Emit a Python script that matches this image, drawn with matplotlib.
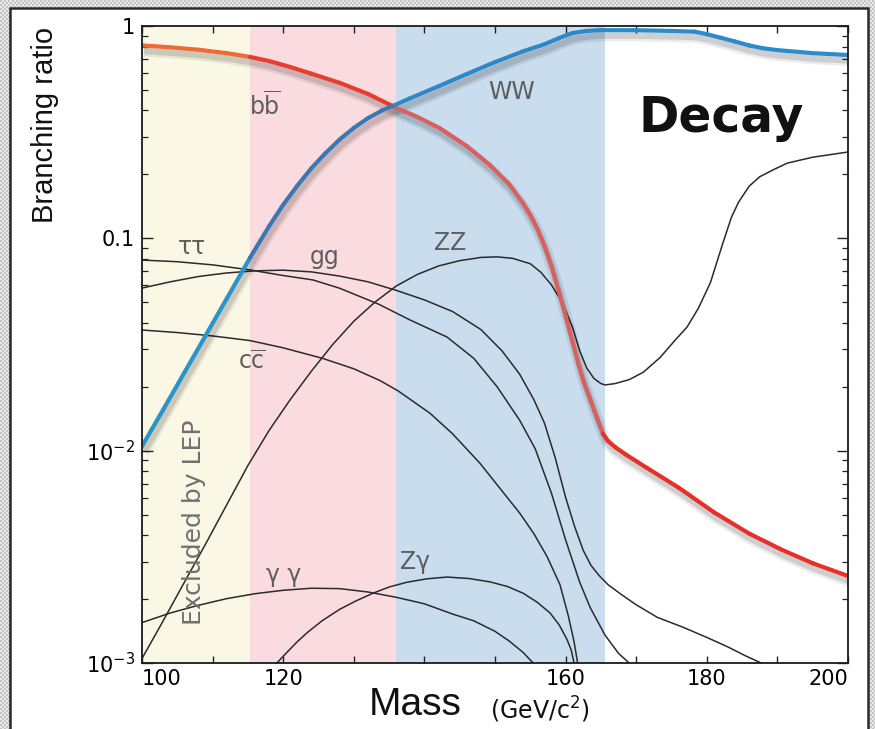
import numpy as np
import matplotlib
matplotlib.use('Agg')
import matplotlib.pyplot as plt
import matplotlib.patheffects as pe
from matplotlib.patches import Rectangle
from matplotlib.collections import LineCollection
from matplotlib.ticker import FixedLocator, LogLocator, NullFormatter

plt.rcParams['font.family'] = ['DejaVu Sans']
plt.rcParams['mathtext.default'] = 'regular'

# ---------------- data ----------------
bb_mass = [100, 104, 108, 112, 115.3, 118, 121, 124, 128, 132, 135.8, 139, 142.2, 146, 149.3, 152,
           154, 155, 156, 157, 158, 159, 160, 161, 161.8, 162.5, 163.5, 164.5, 165.3, 166, 167,
           168.5, 171.5, 176, 181, 186, 190.5, 195, 200]
bb_br = [0.81, 0.794, 0.773, 0.745, 0.715, 0.684, 0.641, 0.596, 0.54, 0.479, 0.415, 0.373, 0.33,
         0.272, 0.221, 0.18, 0.146, 0.129, 0.111, 0.0923, 0.0741, 0.0569, 0.0432, 0.0324, 0.0257,
         0.0214, 0.0174, 0.0141, 0.012, 0.0111, 0.0104, 0.0096, 0.0083, 0.0067, 0.00513, 0.00407,
         0.00343, 0.00295, 0.00257]

ww_mass = [100, 103, 106, 109, 112, 115.3, 118, 120, 122, 124, 126, 128, 130, 132, 134, 135.8, 138,
           142, 146, 150, 154, 157, 159, 161, 163, 165, 170, 175, 178.3, 180, 182, 184, 186, 188,
           190, 195, 200]
ww_br = [0.0105, 0.0156, 0.0233, 0.0348, 0.052, 0.081, 0.114, 0.144, 0.177, 0.214, 0.252, 0.292,
         0.331, 0.368, 0.40, 0.424, 0.457, 0.52, 0.594, 0.676, 0.76, 0.82, 0.875, 0.927, 0.948,
         0.956, 0.955, 0.948, 0.94, 0.915, 0.88, 0.845, 0.81, 0.785, 0.77, 0.745, 0.73]

zz_mass = [100, 103, 106, 109, 112, 115, 118, 121, 124, 127, 130, 133, 136, 139, 142, 145, 148,
           150.3, 152.5, 155, 156.5, 158, 159.5, 161, 162, 163, 164, 165, 165.6, 167, 169, 171,
           173.4, 175.5, 177.2, 178.8, 180.5, 182.3, 183.5, 184.5, 186, 187.5, 189.5, 191.4, 195, 200]
zz_br = [0.00105, 0.00158, 0.0024, 0.00363, 0.00556, 0.00851, 0.01245, 0.0174, 0.0237, 0.0316,
         0.0407, 0.0501, 0.0596, 0.0676, 0.0741, 0.0785, 0.0813, 0.0818, 0.0805, 0.0759, 0.0692,
         0.0603, 0.0501, 0.038, 0.0295, 0.0245, 0.0219, 0.0207, 0.0204, 0.0207, 0.0216, 0.0234,
         0.0275, 0.0331, 0.0382, 0.0468, 0.0617, 0.0955, 0.126, 0.148, 0.176, 0.195, 0.211, 0.226,
         0.241, 0.255]

gg_mass = [100, 104, 108, 112, 116, 120, 124, 128, 132, 136, 140, 144, 148, 151, 153.5, 155.5, 157,
           158.5, 160, 161.3, 162.5, 163.6, 164.8, 166, 168, 170, 173, 176.5, 180, 183, 185.5, 187.7]
gg_br = [0.0583, 0.0624, 0.0661, 0.0687, 0.0703, 0.0708, 0.0695, 0.0664, 0.0624, 0.0569, 0.0513,
         0.0452, 0.0372, 0.0295, 0.0229, 0.0174, 0.0135, 0.00933, 0.00603, 0.00437, 0.00339,
         0.00288, 0.00257, 0.00234, 0.00209, 0.00188, 0.00164, 0.00148, 0.00132, 0.00119, 0.00108,
         0.001]

tautau_mass = [100, 105, 110, 115.3, 120, 124.2, 128, 133.5, 138, 143.2, 147, 150.3, 153.5, 155.7,
               158, 160, 162, 163.5, 165.6, 167.5, 169]
tautau_br = [0.079, 0.0776, 0.075, 0.071, 0.0668, 0.0637, 0.0582, 0.049, 0.0412, 0.0343, 0.0272,
             0.020, 0.0139, 0.0102, 0.0063, 0.0038, 0.0024, 0.00182, 0.00135, 0.00111, 0.001]

cc_mass = [100, 105, 110, 115.3, 120, 125.6, 130, 133.7, 136.3, 140.8, 144, 147.9, 151, 153.5, 155.5,
           157.4, 159.2, 160.4, 161.2, 161.7]
cc_br = [0.037, 0.036, 0.0347, 0.033, 0.0305, 0.0272, 0.0243, 0.0214, 0.0191, 0.015, 0.012, 0.0087,
         0.00646, 0.00508, 0.00407, 0.00316, 0.00234, 0.00166, 0.00126, 0.001]

gamgam_mass = [100, 104, 108, 112, 116, 120, 124, 128, 132, 136, 140, 144, 147, 150, 152, 154, 155.4]
gamgam_br = [0.00155, 0.00172, 0.00187, 0.00201, 0.00212, 0.0022, 0.00225, 0.00224, 0.00216, 0.00204,
             0.0019, 0.0017, 0.00158, 0.00141, 0.00127, 0.00112, 0.001]

zgam_mass = [119.1, 120.5, 122, 123.4, 125.5, 128, 130.3, 132.7, 135, 137.5, 140.3, 143.2, 146.3,
             149.3, 151.8, 154, 156, 157.8, 159.1, 160.2, 160.8, 161.2]
zgam_br = [0.001, 0.00112, 0.00126, 0.00139, 0.00158, 0.00179, 0.00196, 0.00213, 0.00228, 0.0024,
           0.00249, 0.00254, 0.0025, 0.00241, 0.00229, 0.00213, 0.00193, 0.00172, 0.00151, 0.00129,
           0.00115, 0.001]

band_lo = [100, 115.3, 136]
band_hi = [115.3, 136, 165.6]
band_colors = ['#faf8e5', '#fadce0', '#c9ddee']
bb_colors = ['#ef6a36', '#e63d2e', '#d8615f', '#e8302a']   # in yellow, pink, blue band, outside
ww_colors = ['#2a93c9', '#3a77b3', '#2f88c6', '#2a8ccc']

curve_labels = ['b$\\overline{b}$', 'WW', 'ZZ', '\u03c4\u03c4', 'gg', 'c$\\overline{c}$',
                '\u03b3 \u03b3', 'Z\u03b3']
label_x = [117.4, 152.3, 143.6, 107.1, 125.9, 115.6, 120.0, 138.7]
label_y = [0.42, 0.49, 0.095, 0.091, 0.082, 0.0261, 0.00259, 0.00299]

xticks = [100, 110, 120, 130, 140, 150, 160, 170, 180, 190, 200]
xticklabels = ['100', '', '120', '', '', '', '160', '', '180', '', '200']
yticks = [1e-3, 1e-2, 0.1, 1]
yticklabels = ['10$^{-3}$', '10$^{-2}$', '0.1', '1']

# ---------------- figure ----------------
W, H = 875, 729
fig = plt.figure(figsize=(W / 100, H / 100), dpi=100)

# checkered frame
yy, xx = np.mgrid[0:H, 0:W]
chk = ((yy // 2 + xx // 2) % 2)
img = np.empty((H, W, 3))
img[:] = np.array([196, 196, 196]) / 255
img[chk == 1] = np.array([232, 232, 232]) / 255
fig.figimage(img, xo=0, yo=0, zorder=-3)
panel = Rectangle((10 / W, -0.02), (868 - 10) / W, 1.02 - 8 / H, transform=fig.transFigure,
                  facecolor='white', edgecolor='#2a2a2a', lw=1.8, zorder=-2)
fig.add_artist(panel)

ax = fig.add_axes([142 / W, 1 - 663 / H, 706 / W, 637 / H])
ax.set_yscale('log')
ax.set_xlim(100, 200)
ax.set_ylim(1e-3, 1)
ax.set_facecolor('white')

for lo, hi, c in zip(band_lo, band_hi, band_colors):
    ax.axvspan(lo, hi, facecolor=c, lw=0, zorder=1)

thin = dict(color='#2b2b2b', lw=1.1, zorder=3, solid_joinstyle='round')
for m, v in [(zz_mass, zz_br), (gg_mass, gg_br), (tautau_mass, tautau_br), (cc_mass, cc_br),
             (gamgam_mass, gamgam_br), (zgam_mass, zgam_br)]:
    ax.plot(m, v, **thin)


def region_index(x):
    for i, hi in enumerate(band_hi):
        if x < hi:
            return i
    return len(band_hi)


# soft drop shadows (only the shadow effects are drawn for these helper lines)
shadow_only = [pe.SimpleLineShadow(offset=(1.5, -4), shadow_color='k', alpha=0.08, linewidth=8),
               pe.SimpleLineShadow(offset=(1.5, -4), shadow_color='k', alpha=0.12, linewidth=4.5)]

for m, v, cols in [(bb_mass, bb_br, bb_colors), (ww_mass, ww_br, ww_colors)]:
    ax.plot(m, v, color='k', lw=3, zorder=3.5, path_effects=shadow_only,
            solid_joinstyle='round', solid_capstyle='butt')
    pts = np.column_stack([m, v])
    segs = np.stack([pts[:-1], pts[1:]], axis=1)
    mids = 0.5 * (np.array(m[:-1]) + np.array(m[1:]))
    colors = [cols[region_index(x)] for x in mids]
    lc = LineCollection(segs, colors=colors, linewidths=3.0, zorder=4, capstyle='round',
                        joinstyle='round')
    ax.add_collection(lc)

for t, x, y in zip(curve_labels, label_x, label_y):
    ax.text(x, y, t, fontsize=17, color='#5e5e5e', ha='center', va='center', zorder=6)

ax.text(107.4, 0.00461, 'Excluded by LEP', rotation=90, fontsize=18, color='#707070',
        ha='center', va='center', zorder=6)
ax.text(182.0, 0.369, 'Decay', fontsize=35, fontweight='bold', color='#111111',
        ha='center', va='center', zorder=6)

ax.xaxis.set_major_locator(FixedLocator(xticks))
ax.set_xticklabels(xticklabels)
ax.set_yticks(yticks)
ax.set_yticklabels(yticklabels)
ax.yaxis.set_minor_locator(LogLocator(base=10, subs=np.arange(2, 10)))
ax.yaxis.set_minor_formatter(NullFormatter())
ax.tick_params(axis='x', which='both', direction='in', top=True, length=5, width=1,
               labelsize=15, pad=4, color='#222222')
ax.tick_params(axis='y', which='major', direction='in', right=True, length=8, width=1,
               labelsize=15, pad=5, color='#222222')
ax.tick_params(axis='y', which='minor', direction='in', right=True, length=4, width=0.9,
               color='#222222')
xl = ax.get_xticklabels()
xl[0].set_ha('left')
xl[-1].set_ha('right')
for s in ax.spines.values():
    s.set_linewidth(1.3)
    s.set_color('#1a1a1a')
    s.set_zorder(7)

fig.text(45 / W, 1 - 125 / H, 'Branching ratio', rotation=90, fontsize=21, ha='center', va='center',
         family=['Liberation Sans'], color='#111111')
fig.text(415 / W, 1 - 705 / H, 'Mass', fontsize=28, ha='center', va='center',
         family=['Liberation Sans'], color='#111111')
fig.text(540 / W, 1 - 710 / H, '(GeV/c$^{2}$)', fontsize=17, ha='center', va='center',
         family=['DejaVu Sans'], color='#111111')

fig.savefig('out.png', dpi=100)
